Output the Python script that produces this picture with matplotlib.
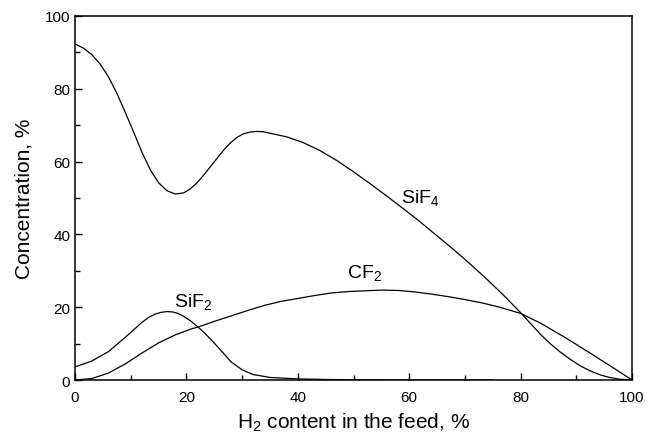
import matplotlib
matplotlib.use('Agg')
import matplotlib.pyplot as plt
from matplotlib.ticker import MultipleLocator

plt.rcParams['font.family'] = ['Liberation Sans', 'DejaVu Sans']
plt.rcParams['mathtext.fontset'] = 'custom'
plt.rcParams['mathtext.rm'] = 'Liberation Sans'

# SiF4 curve
sif4_x = [0, 1.5, 3, 4.5, 6, 7.5, 9, 10.5, 12, 13.5, 15, 16.5, 18, 19.5, 20.6,
          21.8, 23.0, 24.2, 25.4, 26.6, 27.8, 29.0, 30.2, 31.4, 32.6, 33.8, 35,
          38, 41, 44, 47, 50, 53, 56, 59, 62, 65, 68, 71, 74, 77, 80, 81.8,
          83.6, 85.3, 87.1, 88.9, 90.7, 92.5, 94.3, 96, 97.8, 100]
sif4_y = [92.3, 91.2, 89.4, 86.8, 83.3, 78.8, 73.6, 68.2, 62.6, 57.8, 54.2, 52.0,
          51.1, 51.4, 52.4, 54.0, 56.1, 58.4, 60.7, 63.0, 65.0, 66.6, 67.6, 68.1,
          68.3, 68.2, 67.8, 66.8, 65.2, 63.0, 60.3, 57.2, 53.9, 50.5, 47.0, 43.4,
          39.6, 35.8, 31.8, 27.6, 23.2, 18.5, 15.5, 12.5, 10.0, 7.7, 5.7, 3.9,
          2.5, 1.4, 0.7, 0.2, 0]

# SiF2 curve
sif2_x = [0, 3, 6, 9, 12, 13.2, 14.4, 15.5, 16.5, 17.5, 18.5, 19.5, 20.7, 22.2,
          23.4, 24.6, 26.4, 28, 30, 32, 35, 40, 45, 50, 60, 75]
sif2_y = [3.6, 5.2, 7.8, 11.7, 15.8, 17.2, 18.1, 18.6, 18.8, 18.7, 18.3, 17.5,
          16.3, 14.4, 12.7, 10.8, 7.8, 5.0, 2.8, 1.5, 0.7, 0.3, 0.15, 0.05, 0, 0]

# CF2 curve
cf2_x = [0, 3, 6, 9, 12, 15, 18, 21, 22.2, 25, 28, 31, 34, 37, 40, 43, 46, 49,
         52, 55, 58, 61, 64, 67, 70, 73, 76, 80, 83.6, 88.4, 93.2, 97.4, 100]
cf2_y = [0, 0.4, 1.9, 4.4, 7.4, 10.2, 12.4, 14.1, 14.6, 16.1, 17.6, 19.1, 20.5,
         21.6, 22.4, 23.2, 23.9, 24.3, 24.5, 24.7, 24.6, 24.2, 23.6, 22.9, 22.1,
         21.2, 20.1, 18.3, 15.6, 11.3, 6.7, 2.6, 0]

fig = plt.figure(figsize=(6.49, 4.39), dpi=100)
ax = fig.add_axes([0.1156, 0.1321, 0.8582, 0.8292])

for xs, ys in [(sif4_x, sif4_y), (sif2_x, sif2_y), (cf2_x, cf2_y)]:
    ax.plot(xs, ys, color='black', linewidth=0.9)

ax.text(62, 50, r'SiF$_4$', fontsize=14, ha='center', va='center')
ax.text(52, 29.5, r'CF$_2$', fontsize=14, ha='center', va='center')
ax.text(21.2, 21.5, r'SiF$_2$', fontsize=14, ha='center', va='center')

ax.set_xlim(0, 100)
ax.set_ylim(0, 100)
ax.xaxis.set_major_locator(MultipleLocator(20))
ax.xaxis.set_minor_locator(MultipleLocator(10))
ax.yaxis.set_major_locator(MultipleLocator(20))
ax.yaxis.set_minor_locator(MultipleLocator(10))
ax.tick_params(which='both', direction='in', top=False, right=False,
               labelsize=11, width=1.0)
ax.tick_params(which='major', length=5)
ax.tick_params(which='minor', length=3.5)
ax.tick_params(axis='x', pad=7)
for sp in ax.spines.values():
    sp.set_linewidth(1.1)

ax.set_xlabel(r'H$_2$ content in the feed, %', fontsize=15, labelpad=5)
ax.set_ylabel('Concentration, %', fontsize=15, labelpad=8)

plt.savefig('out.png', dpi=100)
